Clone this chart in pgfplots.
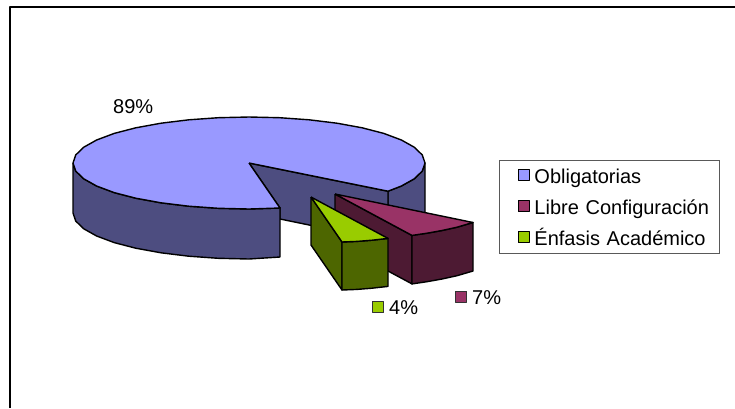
\documentclass[border=0pt]{standalone}
\usepackage{fontspec}
\setmainfont{Liberation Sans}
\usepackage{pgfplots}
\pgfplotsset{compat=1.18}
\definecolor{cBlue}{HTML}{9999FF}
\definecolor{cBlueD}{HTML}{4D4D80}
\definecolor{cMag}{HTML}{993366}
\definecolor{cMagD}{HTML}{4D1A33}
\definecolor{cGrn}{HTML}{99CC00}
\definecolor{cGrnD}{HTML}{4D6600}
\begin{document}
\begin{tikzpicture}
\useasboundingbox (0,0) rectangle (735pt,408pt);
\begin{axis}[
  at={(0,0)},anchor=south west,
  scale only axis,width=735pt,height=408pt,
  xmin=0,xmax=735,ymin=0,ymax=408,y dir=reverse,
  axis lines=none,clip=false,
  every axis plot/.append style={mark=none,line join=round,line width=1.4pt,draw=black},
  legend style={at={(axis cs:499,160)},anchor=north west,draw=black!65,line width=0.9pt,
    font=\fontsize{20}{24}\selectfont,inner xsep=3pt,inner ysep=5pt,
    row sep=10pt,
    nodes={text height=18pt,text depth=3pt,inner sep=0pt,text width=182pt,align=left},
    /tikz/every even column/.append style={column sep=0pt}},
  legend cell align=left,
  legend image code/.code={\path[draw=none,fill=none] (0pt,0pt) -- (32pt,0pt);\draw[line width=1pt,#1] (16pt,-5pt) rectangle (27pt,6pt);},
  /pgfplots/legend plot pos=left,
]
% chart frame (left and top only)
\addplot[forget plot,line width=2pt] coordinates {(10,408) (10,6.5) (735,6.5)};

% large sector: outer wall behind the opening
\addplot[forget plot,fill=cBlueD] coordinates {(388,191.2) (401.4,186) (414.4,178.7) (422.3,171) (425,163)
  (425,213) (422.3,221) (414.4,228.7) (401.4,236) (388,241.2) (388,191.2)};
% inner wall
\addplot[forget plot,fill=cBlueD] coordinates {(249,163) (388,191.2) (388,241.2) (280,219) (280,208) (249,163)};
% front outer wall
\addplot[forget plot,fill=cBlueD] coordinates {(73,163) (75.7,171) (83.6,178.7) (96.6,186) (114.2,192.6) (135.8,198.2)
  (161,202.8) (188.8,206.2) (218.4,208.3) (249,209) (280,208)
  (280,257) (249,259) (218.4,258.3) (188.8,256.2) (161,252.8) (135.8,248.2) (114.2,242.6)
  (96.6,236) (83.6,228.7) (75.7,221) (73,213) (73,163)};
% top face
\addplot[forget plot,fill=cBlue] coordinates {(249,163) (388,191.2) (401.4,186) (414.4,178.7) (422.3,171) (425,163)
  (422.3,155) (414.4,147.3) (401.4,140) (383.8,133.4) (362.2,127.8) (337,123.2) (309.2,119.8)
  (279.6,117.7) (249,117) (218.4,117.7) (188.8,119.8) (161,123.2) (135.8,127.8) (114.2,133.4)
  (96.6,140) (83.6,147.3) (75.7,155) (73,163) (75.7,171) (83.6,178.7) (96.6,186) (114.2,192.6)
  (135.8,198.2) (161,202.8) (188.8,206.2) (218.4,208.3) (249,209) (280,208) (249,163)};

% 7 % sector
\addplot[forget plot,fill=cMagD] coordinates {(335,194) (412,235.4) (412,283.9) (335,242.5) (335,194)};
\addplot[forget plot,fill=cMagD] coordinates {(412,235.4) (427,233.2) (442,230.5) (457,227.2) (473,222.5)
  (473,271) (457,275.7) (442,279) (427,281.7) (412,283.9) (412,235.4)};
\addplot[forget plot,fill=cMag] coordinates {(335,194) (473,222.5) (457,227.2) (442,230.5) (427,233.2) (412,235.4) (335,194)};

% 4 % sector
\addplot[forget plot,fill=cGrnD] coordinates {(311,197) (342,242) (342,290) (311,245) (311,197)};
\addplot[forget plot,fill=cGrnD] coordinates {(342,242) (357,241.4) (372,240.2) (388,238.4)
  (388,286.4) (372,288.2) (357,289.4) (342,290) (342,242)};
\addplot[forget plot,fill=cGrn] coordinates {(311,197) (388,238.4) (372,240.2) (357,241.4) (342,242) (311,197)};

% data-label keys
\addplot[forget plot,only marks,mark=square*,mark size=5.5pt,line width=0.9pt,mark options={fill=cMag,draw=black!80}] coordinates {(461,296.5)};
\addplot[forget plot,only marks,mark=square*,mark size=5.5pt,line width=0.9pt,mark options={fill=cGrn,draw=black!80}] coordinates {(378,307)};

\node[anchor=base west,inner sep=0pt,font=\fontsize{20}{24}\selectfont] at (axis cs:113,113.5) {89\%};
\node[anchor=base west,inner sep=0pt,font=\fontsize{20}{24}\selectfont] at (axis cs:472,304) {7\%};
\node[anchor=base west,inner sep=0pt,font=\fontsize{20}{24}\selectfont] at (axis cs:389,314) {4\%};

\addlegendimage{fill=cBlue,draw=black}
\addlegendentry{Obligatorias}
\addlegendimage{fill=cMag,draw=black}
\addlegendentry{Libre Configuración}
\addlegendimage{fill=cGrn,draw=black}
\addlegendentry{Énfasis Académico}
\end{axis}
\end{tikzpicture}
\end{document}
